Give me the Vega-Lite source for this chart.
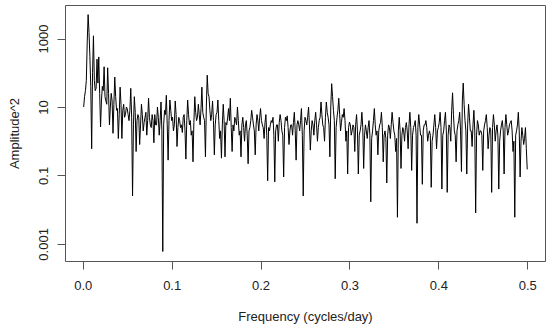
{
  "$schema": "https://vega.github.io/schema/vega-lite/v6.json",
  "width": 480,
  "height": 256,
  "autosize": {"type": "none"},
  "padding": {"left": 65, "top": 5, "right": 5, "bottom": 70},
  "background": "white",
  "view": {"stroke": "#555", "strokeWidth": 1, "fill": "white"},
  "config": {
    "view": {"stroke": "#555", "strokeWidth": 1},
    "font": "Liberation Sans"
  },
  "data": {"values": [
    {"f":0.002,"a":20},{"f":0.004,"a":60},{"f":0.006,"a":5000},{"f":0.008,"a":300},{"f":0.010,"a":0.6},
    {"f":0.012,"a":1200},{"f":0.014,"a":30},{"f":0.016,"a":250},{"f":0.018,"a":290},{"f":0.020,"a":2.6},
    {"f":0.022,"a":40},{"f":0.024,"a":150},{"f":0.026,"a":15},{"f":0.028,"a":140},{"f":0.030,"a":3},
    {"f":0.032,"a":25},{"f":0.034,"a":1.7},{"f":0.036,"a":75},{"f":0.038,"a":8},{"f":0.040,"a":1.2},
    {"f":0.042,"a":38},{"f":0.044,"a":1.2},{"f":0.046,"a":12},{"f":0.048,"a":6},{"f":0.050,"a":9},
    {"f":0.052,"a":4},{"f":0.054,"a":35},{"f":0.056,"a":0.025},{"f":0.058,"a":20},{"f":0.060,"a":0.5},
    {"f":0.062,"a":6},{"f":0.064,"a":0.8},{"f":0.066,"a":12},{"f":0.068,"a":2},{"f":0.070,"a":5},
    {"f":0.072,"a":1.5},{"f":0.074,"a":18},{"f":0.076,"a":3},{"f":0.078,"a":6},{"f":0.080,"a":0.9},
    {"f":0.082,"a":3},{"f":0.084,"a":10},{"f":0.086,"a":1.5},{"f":0.088,"a":14},{"f":0.090,"a":0.0006},
    {"f":0.092,"a":8},{"f":0.094,"a":22},{"f":0.096,"a":0.28},{"f":0.098,"a":16},{"f":0.100,"a":4},
    {"f":0.102,"a":2},{"f":0.104,"a":15},{"f":0.106,"a":0.7},{"f":0.108,"a":5},{"f":0.110,"a":2.5},
    {"f":0.112,"a":1.8},{"f":0.114,"a":6},{"f":0.116,"a":0.3},{"f":0.118,"a":16},{"f":0.120,"a":3},
    {"f":0.122,"a":1.5},{"f":0.124,"a":0.25},{"f":0.126,"a":20},{"f":0.128,"a":4},{"f":0.130,"a":12},
    {"f":0.132,"a":3},{"f":0.134,"a":38},{"f":0.136,"a":5},{"f":0.138,"a":0.35},{"f":0.140,"a":85},
    {"f":0.142,"a":20},{"f":0.144,"a":4},{"f":0.146,"a":15},{"f":0.148,"a":0.4},{"f":0.150,"a":6},
    {"f":0.152,"a":16},{"f":0.154,"a":1.2},{"f":0.156,"a":0.32},{"f":0.158,"a":12},{"f":0.160,"a":0.35},
    {"f":0.162,"a":3},{"f":0.164,"a":9},{"f":0.166,"a":18},{"f":0.168,"a":0.5},{"f":0.170,"a":2},
    {"f":0.172,"a":4},{"f":0.174,"a":10},{"f":0.176,"a":1.5},{"f":0.178,"a":0.35},{"f":0.180,"a":5},
    {"f":0.182,"a":1},{"f":0.184,"a":4},{"f":0.186,"a":0.22},{"f":0.188,"a":2.5},{"f":0.190,"a":8},
    {"f":0.192,"a":3},{"f":0.194,"a":0.4},{"f":0.196,"a":6},{"f":0.198,"a":2},{"f":0.200,"a":9},
    {"f":0.202,"a":3},{"f":0.204,"a":1.2},{"f":0.206,"a":6},{"f":0.208,"a":0.07},{"f":0.210,"a":2},
    {"f":0.212,"a":4},{"f":0.214,"a":5},{"f":0.216,"a":0.065},{"f":0.218,"a":3},{"f":0.220,"a":1},
    {"f":0.222,"a":6},{"f":0.224,"a":2},{"f":0.226,"a":0.09},{"f":0.228,"a":5},{"f":0.230,"a":5.5},
    {"f":0.232,"a":0.8},{"f":0.234,"a":3},{"f":0.236,"a":1.5},{"f":0.238,"a":7},{"f":0.240,"a":0.28},
    {"f":0.242,"a":4},{"f":0.244,"a":2},{"f":0.246,"a":9},{"f":0.248,"a":0.025},{"f":0.250,"a":5},
    {"f":0.252,"a":3},{"f":0.254,"a":10},{"f":0.256,"a":0.55},{"f":0.258,"a":4},{"f":0.260,"a":1.5},
    {"f":0.262,"a":7},{"f":0.264,"a":1},{"f":0.266,"a":4},{"f":0.268,"a":14},{"f":0.270,"a":3},
    {"f":0.272,"a":1},{"f":0.274,"a":14},{"f":0.276,"a":5},{"f":0.278,"a":0.35},{"f":0.280,"a":48},
    {"f":0.282,"a":8},{"f":0.284,"a":0.08},{"f":0.286,"a":5},{"f":0.288,"a":18},{"f":0.290,"a":2},
    {"f":0.292,"a":6},{"f":0.294,"a":9},{"f":0.296,"a":1},{"f":0.298,"a":0.11},{"f":0.300,"a":3.6},
    {"f":0.302,"a":1.5},{"f":0.304,"a":3},{"f":0.306,"a":0.5},{"f":0.308,"a":6},{"f":0.310,"a":0.11},
    {"f":0.312,"a":2},{"f":0.314,"a":7},{"f":0.316,"a":0.16},{"f":0.318,"a":3},{"f":0.320,"a":1.2},
    {"f":0.322,"a":4},{"f":0.324,"a":0.017},{"f":0.326,"a":2},{"f":0.328,"a":9},{"f":0.330,"a":1.5},
    {"f":0.332,"a":0.4},{"f":0.334,"a":3},{"f":0.336,"a":7},{"f":0.338,"a":0.25},{"f":0.340,"a":2},
    {"f":0.342,"a":0.06},{"f":0.344,"a":3},{"f":0.346,"a":1.2},{"f":0.348,"a":7},{"f":0.350,"a":2},
    {"f":0.352,"a":0.5},{"f":0.354,"a":0.006},{"f":0.356,"a":5},{"f":0.358,"a":0.16},{"f":0.360,"a":2.5},
    {"f":0.362,"a":1},{"f":0.364,"a":3.5},{"f":0.366,"a":0.6},{"f":0.368,"a":7},{"f":0.370,"a":0.14},
    {"f":0.372,"a":2.5},{"f":0.374,"a":4},{"f":0.376,"a":0.004},{"f":0.378,"a":6},{"f":0.380,"a":1.5},
    {"f":0.382,"a":0.055},{"f":0.384,"a":3},{"f":0.386,"a":4},{"f":0.388,"a":1},{"f":0.390,"a":2},
    {"f":0.392,"a":0.045},{"f":0.394,"a":1.5},{"f":0.396,"a":6},{"f":0.398,"a":0.6},{"f":0.400,"a":2.5},
    {"f":0.402,"a":7},{"f":0.404,"a":0.04},{"f":0.406,"a":2},{"f":0.408,"a":7},{"f":0.410,"a":0.032},
    {"f":0.412,"a":3},{"f":0.414,"a":1},{"f":0.416,"a":26},{"f":0.418,"a":2},{"f":0.420,"a":0.25},
    {"f":0.422,"a":3},{"f":0.424,"a":7},{"f":0.426,"a":0.13},{"f":0.428,"a":50},{"f":0.430,"a":4},
    {"f":0.432,"a":0.11},{"f":0.434,"a":12},{"f":0.436,"a":2},{"f":0.438,"a":0.7},{"f":0.440,"a":8},
    {"f":0.442,"a":0.008},{"f":0.444,"a":4},{"f":0.446,"a":1.5},{"f":0.448,"a":2},{"f":0.450,"a":0.14},
    {"f":0.452,"a":3},{"f":0.454,"a":6},{"f":0.456,"a":0.6},{"f":0.458,"a":2.5},{"f":0.460,"a":0.032},
    {"f":0.462,"a":6},{"f":0.464,"a":1},{"f":0.466,"a":3},{"f":0.468,"a":0.04},{"f":0.470,"a":2},
    {"f":0.472,"a":4},{"f":0.474,"a":0.11},{"f":0.476,"a":6},{"f":0.478,"a":1.5},{"f":0.480,"a":3},
    {"f":0.482,"a":4},{"f":0.484,"a":0.5},{"f":0.486,"a":0.006},{"f":0.488,"a":2},{"f":0.490,"a":7},
    {"f":0.492,"a":0.09},{"f":0.494,"a":2.5},{"f":0.496,"a":0.8},{"f":0.498,"a":2.5},{"f":0.500,"a":0.15},
    {"f":0.001,"a":10},{"f":0.003,"a":30},{"f":0.005,"a":800},{"f":0.007,"a":1500},{"f":0.009,"a":40},
    {"f":0.011,"a":100},{"f":0.013,"a":60},{"f":0.015,"a":35},{"f":0.017,"a":50},{"f":0.019,"a":25},
    {"f":0.021,"a":15},{"f":0.023,"a":30},{"f":0.025,"a":20},{"f":0.027,"a":12},{"f":0.029,"a":25},
    {"f":0.031,"a":10},{"f":0.033,"a":15},{"f":0.035,"a":12},{"f":0.037,"a":20},{"f":0.039,"a":9},
    {"f":0.041,"a":6},{"f":0.043,"a":12},{"f":0.045,"a":8},{"f":0.047,"a":5},{"f":0.049,"a":10},
    {"f":0.051,"a":6},{"f":0.053,"a":8},{"f":0.055,"a":5},{"f":0.057,"a":3},{"f":0.059,"a":7},
    {"f":0.061,"a":4},{"f":0.063,"a":5},{"f":0.065,"a":3},{"f":0.067,"a":6},{"f":0.069,"a":3.5},
    {"f":0.071,"a":7},{"f":0.073,"a":4},{"f":0.075,"a":5},{"f":0.077,"a":2.5},{"f":0.079,"a":4},
    {"f":0.081,"a":6},{"f":0.083,"a":3},{"f":0.085,"a":5},{"f":0.087,"a":4},{"f":0.089,"a":2},
    {"f":0.091,"a":3},{"f":0.093,"a":6},{"f":0.095,"a":3},{"f":0.097,"a":4},{"f":0.099,"a":8},
    {"f":0.101,"a":5},{"f":0.103,"a":3},{"f":0.105,"a":6},{"f":0.107,"a":2.5},{"f":0.109,"a":4},
    {"f":0.111,"a":3},{"f":0.113,"a":5},{"f":0.115,"a":2},{"f":0.117,"a":4},{"f":0.119,"a":6},
    {"f":0.121,"a":4},{"f":0.123,"a":2},{"f":0.125,"a":3.5},{"f":0.127,"a":7},{"f":0.129,"a":5},
    {"f":0.131,"a":6},{"f":0.133,"a":9},{"f":0.135,"a":7},{"f":0.137,"a":4},{"f":0.139,"a":10},
    {"f":0.141,"a":25},{"f":0.143,"a":8},{"f":0.145,"a":6},{"f":0.147,"a":4},{"f":0.149,"a":3},
    {"f":0.151,"a":7},{"f":0.153,"a":4},{"f":0.155,"a":2},{"f":0.157,"a":3},{"f":0.159,"a":4},
    {"f":0.161,"a":3.5},{"f":0.163,"a":5},{"f":0.165,"a":4},{"f":0.167,"a":2.5},{"f":0.169,"a":3},
    {"f":0.171,"a":5},{"f":0.173,"a":3},{"f":0.175,"a":4},{"f":0.177,"a":2},{"f":0.179,"a":3},
    {"f":0.181,"a":2.5},{"f":0.183,"a":3},{"f":0.185,"a":1.5},{"f":0.187,"a":2},{"f":0.189,"a":4},
    {"f":0.191,"a":5},{"f":0.193,"a":2},{"f":0.195,"a":3},{"f":0.197,"a":4},{"f":0.199,"a":5},
    {"f":0.201,"a":4},{"f":0.203,"a":2.5},{"f":0.205,"a":3.5},{"f":0.207,"a":1.5},{"f":0.209,"a":2.5},
    {"f":0.211,"a":3},{"f":0.213,"a":3.5},{"f":0.215,"a":1.5},{"f":0.217,"a":2},{"f":0.219,"a":3},
    {"f":0.221,"a":3.5},{"f":0.223,"a":4},{"f":0.225,"a":1.5},{"f":0.227,"a":2.5},{"f":0.229,"a":4},
    {"f":0.231,"a":2.5},{"f":0.233,"a":2},{"f":0.235,"a":3},{"f":0.237,"a":3.5},{"f":0.239,"a":2},
    {"f":0.241,"a":3},{"f":0.243,"a":3},{"f":0.245,"a":4},{"f":0.247,"a":1.5},{"f":0.249,"a":2},
    {"f":0.251,"a":4},{"f":0.253,"a":5},{"f":0.255,"a":3},{"f":0.257,"a":2},{"f":0.259,"a":3},
    {"f":0.261,"a":4},{"f":0.263,"a":3},{"f":0.265,"a":2.5},{"f":0.267,"a":5},{"f":0.269,"a":6},
    {"f":0.271,"a":2.5},{"f":0.273,"a":5},{"f":0.275,"a":7},{"f":0.277,"a":3},{"f":0.279,"a":10},
    {"f":0.281,"a":20},{"f":0.283,"a":4},{"f":0.285,"a":2.5},{"f":0.287,"a":8},{"f":0.289,"a":6},
    {"f":0.291,"a":3.5},{"f":0.293,"a":5},{"f":0.295,"a":4},{"f":0.297,"a":2},{"f":0.299,"a":2.5},
    {"f":0.301,"a":3},{"f":0.303,"a":2},{"f":0.305,"a":2.5},{"f":0.307,"a":3},{"f":0.309,"a":2},
    {"f":0.311,"a":1.5},{"f":0.313,"a":3},{"f":0.315,"a":2.5},{"f":0.317,"a":1.5},{"f":0.319,"a":2},
    {"f":0.321,"a":2.5},{"f":0.323,"a":1.5},{"f":0.325,"a":1.2},{"f":0.327,"a":4},{"f":0.329,"a":3},
    {"f":0.331,"a":2},{"f":0.333,"a":2},{"f":0.335,"a":3.5},{"f":0.337,"a":2.5},{"f":0.339,"a":1.5},
    {"f":0.341,"a":1.2},{"f":0.343,"a":1.5},{"f":0.345,"a":2.5},{"f":0.347,"a":3},{"f":0.349,"a":3.5},
    {"f":0.351,"a":1.5},{"f":0.353,"a":1.2},{"f":0.355,"a":2},{"f":0.357,"a":2},{"f":0.359,"a":1.5},
    {"f":0.361,"a":2},{"f":0.363,"a":2.5},{"f":0.365,"a":2},{"f":0.367,"a":3},{"f":0.369,"a":2.5},
    {"f":0.371,"a":1.5},{"f":0.373,"a":3},{"f":0.375,"a":1.5},{"f":0.377,"a":2.5},{"f":0.379,"a":3},
    {"f":0.381,"a":1.5},{"f":0.383,"a":2},{"f":0.385,"a":3},{"f":0.387,"a":2.5},{"f":0.389,"a":1.5},
    {"f":0.391,"a":1.5},{"f":0.393,"a":1},{"f":0.395,"a":3},{"f":0.397,"a":2.5},{"f":0.399,"a":2},
    {"f":0.401,"a":3.5},{"f":0.403,"a":2.5},{"f":0.405,"a":1.5},{"f":0.407,"a":4},{"f":0.409,"a":2},
    {"f":0.411,"a":1.5},{"f":0.413,"a":2.5},{"f":0.415,"a":8},{"f":0.417,"a":6},{"f":0.419,"a":1.5},
    {"f":0.421,"a":2},{"f":0.423,"a":4},{"f":0.425,"a":2},{"f":0.427,"a":15},{"f":0.429,"a":12},
    {"f":0.431,"a":2},{"f":0.433,"a":3},{"f":0.435,"a":5},{"f":0.437,"a":2},{"f":0.439,"a":3},
    {"f":0.441,"a":2},{"f":0.443,"a":1.5},{"f":0.445,"a":3},{"f":0.447,"a":2},{"f":0.449,"a":1.5},
    {"f":0.451,"a":2},{"f":0.453,"a":4},{"f":0.455,"a":2.5},{"f":0.457,"a":1.5},{"f":0.459,"a":2},
    {"f":0.461,"a":2.5},{"f":0.463,"a":3},{"f":0.465,"a":2},{"f":0.467,"a":1.5},{"f":0.469,"a":1},
    {"f":0.471,"a":3},{"f":0.473,"a":2},{"f":0.475,"a":2.5},{"f":0.477,"a":3},{"f":0.479,"a":2},
    {"f":0.481,"a":3.5},{"f":0.483,"a":2},{"f":0.485,"a":1},{"f":0.487,"a":1.5},{"f":0.489,"a":3},
    {"f":0.491,"a":2},{"f":0.493,"a":1},{"f":0.495,"a":1.5},{"f":0.497,"a":1.2},{"f":0.499,"a":0.6}
  ]},
  "mark": {"type": "line", "color": "black", "strokeWidth": 1, "clip": true},
  "encoding": {
    "x": {
      "field": "f", "type": "quantitative",
      "scale": {"domain": [-0.02, 0.52], "nice": false, "zero": false},
      "axis": {
        "values": [0, 0.1, 0.2, 0.3, 0.4, 0.5], "format": ".1f",
        "title": "Frequency (cycles/day)",
        "domain": false, "grid": false,
        "tickSize": 8, "tickColor": "#555",
        "labelFontSize": 13, "labelColor": "#222", "labelPadding": 10,
        "titleFontSize": 13, "titleFontWeight": "normal", "titleColor": "#222", "titlePadding": 18
      }
    },
    "y": {
      "field": "a", "type": "quantitative",
      "scale": {"type": "log", "domain": [0.000316, 9550], "nice": false},
      "axis": {
        "values": [0.001, 0.1, 10, 1000], "format": "~g",
        "title": "Amplitude^2",
        "domain": false, "grid": false,
        "tickSize": 8, "tickColor": "#555",
        "labelAngle": -90, "labelAlign": "center", "labelBaseline": "bottom",
        "labelFontSize": 13, "labelColor": "#222", "labelPadding": 7,
        "titleFontSize": 13, "titleFontWeight": "normal", "titleColor": "#222", "titlePadding": 16
      }
    }
  }
}
